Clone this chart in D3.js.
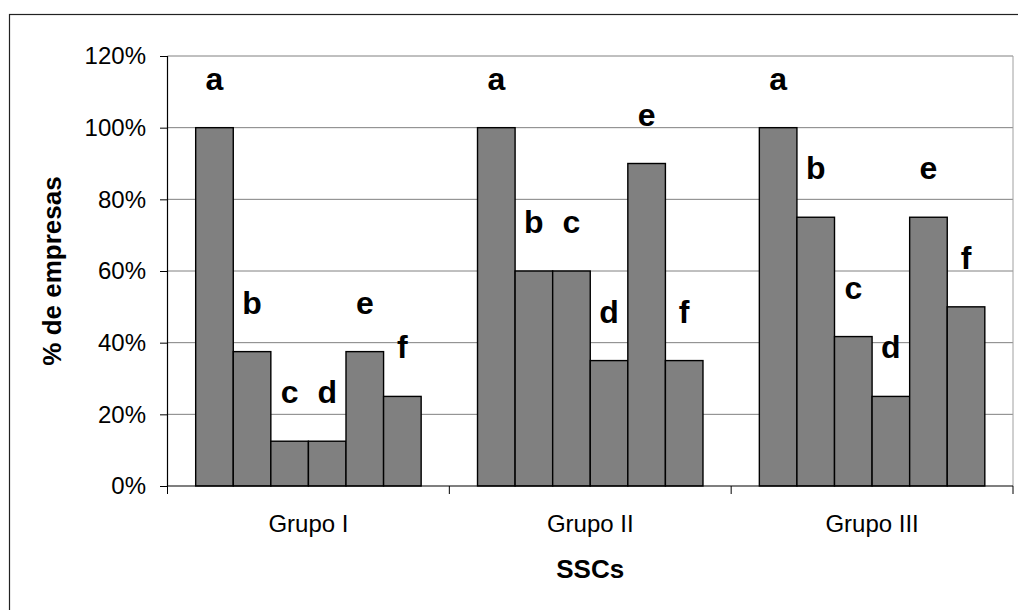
<!DOCTYPE html>
<html>
<head>
<meta charset="utf-8">
<script src="https://cdn.jsdelivr.net/npm/d3@7"></script>
<style>
  html, body { margin: 0; padding: 0; background: #fff; }
  svg { display: block; font-family: "Liberation Sans", Arial, sans-serif; }
</style>
</head>
<body>
<div id="viz"></div>
<script>
const groups = ["Grupo I", "Grupo II", "Grupo III"];
const letters = ["a", "b", "c", "d", "e", "f"];
const grupoI = [100, 37.5, 12.5, 12.5, 37.5, 25];
const grupoII = [100, 60, 60, 35, 90, 35];
const grupoIII = [100, 75, 41.7, 25, 75, 50];
const yTicks = [0, 20, 40, 60, 80, 100, 120];

const seriesByGroup = [grupoI, grupoII, grupoIII];

document.addEventListener("DOMContentLoaded", () => {
  const width = 1018, height = 610;
  const plot = { left: 167.5, right: 1013, top: 56, bottom: 486 };

  const svg = d3.select("#viz").append("svg")
    .attr("width", width)
    .attr("height", height);

  // outer frame (cropped at the right and bottom)
  svg.append("rect")
    .attr("x", 9.5).attr("y", 14.5)
    .attr("width", width + 20).attr("height", height + 20)
    .attr("fill", "none")
    .attr("stroke", "#222")
    .attr("stroke-width", 1.2);

  const x = d3.scaleBand()
    .domain(groups)
    .range([plot.left, plot.right])
    .padding(0);

  const xInner = d3.scaleBand()
    .domain(letters)
    .range([0, x.bandwidth()])
    .paddingInner(0)
    .paddingOuter(0.75);

  const y = d3.scaleLinear()
    .domain([0, 120])
    .range([plot.bottom, plot.top]);

  // gridlines
  svg.append("g")
    .selectAll("line")
    .data(yTicks.filter(d => d > 0))
    .enter().append("line")
    .attr("x1", plot.left).attr("x2", plot.right)
    .attr("y1", d => y(d)).attr("y2", d => y(d))
    .attr("stroke", "#808080")
    .attr("stroke-width", 1);

  // plot area right border
  svg.append("line")
    .attr("x1", plot.right).attr("x2", plot.right)
    .attr("y1", plot.top).attr("y2", plot.bottom)
    .attr("stroke", "#a0a0a0")
    .attr("stroke-width", 1);

  // bars
  const rows = [];
  groups.forEach((g, gi) => {
    letters.forEach((l, li) => {
      rows.push({ group: g, letter: l, value: seriesByGroup[gi][li] });
    });
  });

  svg.append("g")
    .selectAll("rect")
    .data(rows)
    .enter().append("rect")
    .attr("x", d => x(d.group) + xInner(d.letter))
    .attr("y", d => y(d.value))
    .attr("width", xInner.bandwidth())
    .attr("height", d => y(0) - y(d.value))
    .attr("fill", "#808080")
    .attr("stroke", "#000")
    .attr("stroke-width", 1.4);

  // letter labels above each bar
  svg.append("g")
    .selectAll("text")
    .data(rows)
    .enter().append("text")
    .attr("x", d => x(d.group) + xInner(d.letter) + xInner.bandwidth() / 2)
    .attr("y", d => y(d.value) - 38)
    .attr("text-anchor", "middle")
    .attr("font-size", 32)
    .attr("font-weight", "bold")
    .text(d => d.letter);

  // y axis
  const yAxis = svg.append("g")
    .attr("transform", `translate(${plot.left},0)`)
    .call(d3.axisLeft(y)
      .tickValues(yTicks)
      .tickSize(7.5)
      .tickPadding(14)
      .tickFormat(d => d + "%"));
  yAxis.select(".domain").attr("stroke", "#000").attr("stroke-width", 1.2)
    .attr("d", `M0,${plot.top}V${plot.bottom}`);
  yAxis.selectAll(".tick line").attr("stroke", "#000");
  yAxis.selectAll(".tick text")
    .attr("font-size", 24)
    .attr("font-family", "Liberation Sans, Arial, sans-serif")
    .attr("fill", "#000");

  // x axis
  const xAxis = svg.append("g")
    .attr("transform", `translate(0,${plot.bottom})`)
    .call(d3.axisBottom(x).tickSize(0).tickPadding(0));
  xAxis.select(".domain").attr("stroke", "#000").attr("stroke-width", 1.2)
    .attr("d", `M${plot.left},0H${plot.right}`);
  xAxis.selectAll(".tick text")
    .attr("font-size", 24)
    .attr("font-family", "Liberation Sans, Arial, sans-serif")
    .attr("fill", "#000")
    .attr("dy", null)
    .attr("y", 46);

  // category boundary ticks
  const bounds = groups.map(g => x(g)).concat([plot.right]);
  xAxis.append("g")
    .selectAll("line")
    .data(bounds)
    .enter().append("line")
    .attr("x1", d => d).attr("x2", d => d)
    .attr("y1", 0).attr("y2", 8)
    .attr("stroke", "#000")
    .attr("stroke-width", 1);

  // axis titles
  svg.append("text")
    .attr("x", (plot.left + plot.right) / 2)
    .attr("y", 578)
    .attr("text-anchor", "middle")
    .attr("font-size", 26)
    .attr("font-weight", "bold")
    .text("SSCs");

  svg.append("text")
    .attr("transform", `translate(61,${(plot.top + plot.bottom) / 2}) rotate(-90)`)
    .attr("text-anchor", "middle")
    .attr("font-size", 26)
    .attr("font-weight", "bold")
    .text("% de empresas");
});
</script>
</body>
</html>
